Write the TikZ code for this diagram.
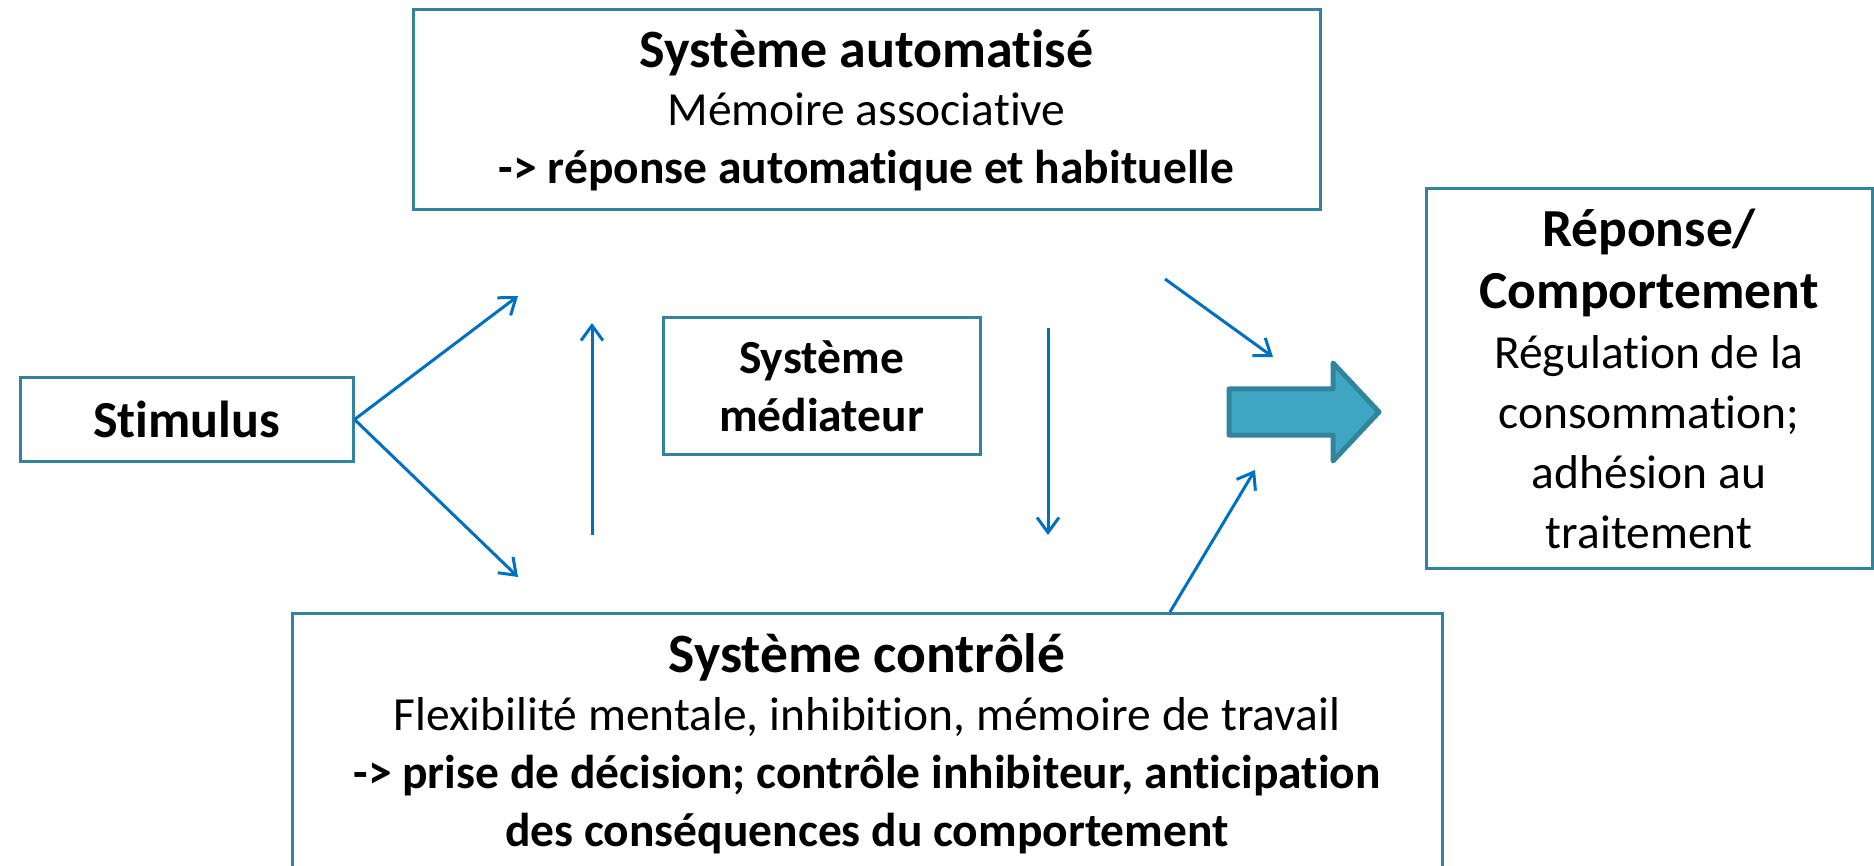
\documentclass[tikz,border=0pt]{standalone}
\usepackage{fontspec}
\setmainfont[Ligatures={TeX,NoCommon}]{Carlito}
\usetikzlibrary{arrows.meta}
\definecolor{boxteal}{HTML}{31849B}
\definecolor{linkblue}{HTML}{0070C0}
\definecolor{arrowfill}{HTML}{3FA6C3}

\begin{document}
\begin{tikzpicture}[x=1pt,y=-1pt,
  box/.style={draw=boxteal,line width=3pt,inner sep=0pt,align=center,
    font=\fontsize{47.5}{58}\selectfont},
  link/.style={draw=linkblue,line width=3pt,-{Straight Barb[length=15pt,width=22pt]}}]
\useasboundingbox (0,0) rectangle (1874,866);

% boxes
\node[box,minimum width=907pt,minimum height=200pt] (auto) at (866.5,110)
  {{\fontsize{54}{62}\selectfont\bfseries Système automatisé}\\
   Mémoire associative\\
   \textbf{-> réponse automatique et habituelle}};
\node[box,minimum width=333pt,minimum height=83pt] (stim) at (186.5,419.5)
  {{\fontsize{52}{60}\selectfont\bfseries Stimulus}};
\node[box,minimum width=317pt,minimum height=136pt] (medi) at (821.5,386)
  {\textbf{Système}\\ \textbf{médiateur}};
\node[box,minimum width=446pt,minimum height=379pt] (resp) at (1649,378.5)
  {{\fontsize{53.5}{62}\selectfont\bfseries Réponse/}\\[4pt]
   {\fontsize{53.5}{62}\selectfont\bfseries Comportement}\\[2pt]
   Régulation de la\\[2pt] consommation;\\[2pt] adhésion au\\[2pt] traitement};
\node[box,minimum width=1150pt,inner ysep=20pt,anchor=north] (ctrl) at (867,612)
  {{\fontsize{55.5}{62}\selectfont\bfseries Système contrôlé}\\
   Flexibilité mentale, inhibition, mémoire de travail\\
   \textbf{-> prise de décision; contrôle inhibiteur, anticipation}\\
   \textbf{des conséquences du comportement}};

% big arrow
\draw[draw=boxteal,fill=arrowfill,line width=5pt,line join=round]
  (1229,389) -- (1333,389) -- (1333,363) -- (1379,412) -- (1333,461)
  -- (1333,435) -- (1229,435) -- cycle;

% free ends
\coordinate (autoin) at (518,296);
\coordinate (ctrlin) at (518,577);
\coordinate (upfoot) at (592,535);
\coordinate (uphead) at (592,323);
\coordinate (downfoot) at (1048,328);
\coordinate (downhead) at (1048,535);
\coordinate (autoout) at (1165,279);
\coordinate (respin) at (1273,357);
\coordinate (respin2) at (1255,470);

% connectors
\draw[link] (stim.east) -- (autoin);
\draw[link] (stim.east) -- (ctrlin);
\draw[link] (upfoot) -- (uphead);
\draw[link] (downfoot) -- (downhead);
\draw[link] (autoout) -- (respin);
\draw[link] ([xshift=303pt]ctrl.north) -- (respin2);
\end{tikzpicture}
\end{document}
